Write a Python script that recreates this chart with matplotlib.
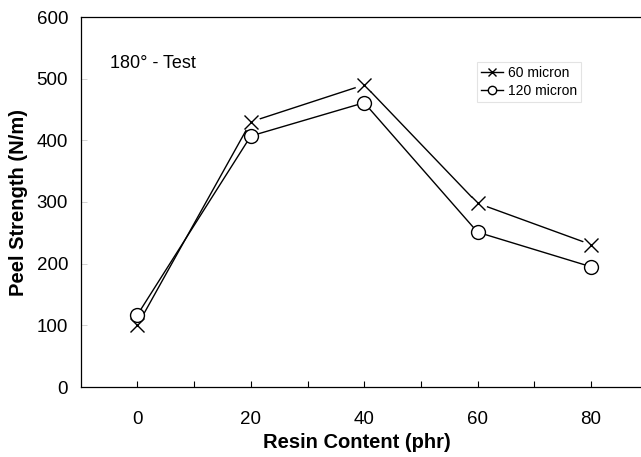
import matplotlib
matplotlib.use("Agg")
import matplotlib.pyplot as plt
from matplotlib.lines import Line2D

plt.rcParams['font.family'] = ['Liberation Sans', 'DejaVu Sans']

resin = [0, 20, 40, 60, 80]
peel_60 = [100, 430, 490, 298, 231]
peel_120 = [117, 407, 461, 251, 195]
xticks = [0, 20, 40, 60, 80]
yticks = [0, 100, 200, 300, 400, 500, 600]

fig = plt.figure(figsize=(6.41, 4.57), dpi=100)
ax = fig.add_axes([80.7/641, 70/457, 567/641, 370/457])

ax.plot(resin, peel_60, color='black', lw=1.0, zorder=2)
ax.plot(resin, peel_120, color='black', lw=1.0, zorder=2)
# white masks to give gaps around markers
ax.plot(resin, peel_60, ls='none', marker='o', ms=12, mfc='white', mec='white', zorder=3)
ax.plot(resin, peel_60, ls='none', marker='x', ms=10, mew=1.0, color='black', zorder=4)
ax.plot(resin, peel_120, ls='none', marker='o', ms=10, mfc='white', mec='black', mew=1.0, zorder=5)

ax.set_xlim(-10, 90)
ax.set_ylim(0, 600)
ax.set_xticks(range(0, 90, 10))
ax.set_xticklabels([str(v) if v in xticks else '' for v in range(0, 90, 10)])
ax.set_yticks(yticks)
ax.tick_params(axis='x', direction='in', length=4, width=0.8, labelsize=13.5, pad=17)
ax.tick_params(axis='y', direction='in', length=4, width=0.6, color='#cccccc', labelsize=13.5, pad=9)
ax.spines['right'].set_visible(False)
for s in ['left', 'bottom', 'top']:
    ax.spines[s].set_linewidth(0.9)

ax.set_xlabel('Resin Content (phr)', fontsize=14.5, fontweight='bold', va='center')
ax.set_ylabel('Peel Strength (N/m)', fontsize=14.5, fontweight='bold', va='center')
ax.xaxis.set_label_coords((357 - 80.7) / 567, -(443 - 387) / 370)
ax.yaxis.set_label_coords((19 - 80.7) / 567, 0.5)

fig.text(110/641, 1 - 64/457, '180° - Test', fontsize=13, va='center', ha='left')

handles = [Line2D([], [], color='black', lw=1.0, marker='x', ms=6, mew=1.0),
           Line2D([], [], color='black', lw=1.0, marker='o', ms=6, mfc='white', mew=1.0)]
leg = ax.legend(handles, ['60 micron', '120 micron'], loc='upper left',
                fontsize=10, handlelength=1.6,
                handletextpad=0.3, borderpad=0.3, labelspacing=0.25,
                frameon=True, fancybox=False, edgecolor='#dddddd', borderaxespad=0)
leg.get_frame().set_linewidth(0.8)
leg.set_bbox_to_anchor((477/641, 1 - 62/457), transform=fig.transFigure)

fig.savefig('out.png', dpi=100)
